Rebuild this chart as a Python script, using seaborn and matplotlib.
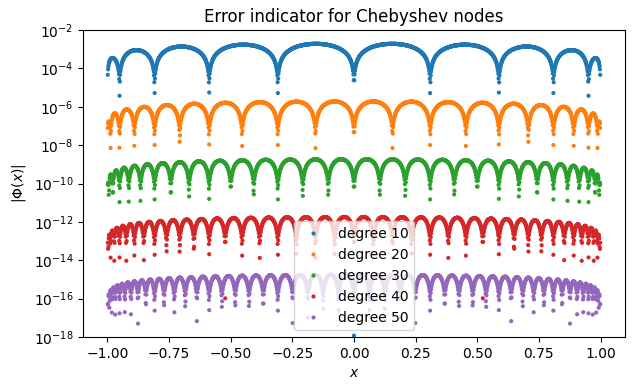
"""error indicator |Phi(x)| for Chebyshev (Gauss-Lobatto) nodes"""

import numpy as np
import pandas as pd
import seaborn as sns
import matplotlib.pyplot as plt

degrees = [10, 20, 30, 40, 50]
labels = [f"degree {d}" for d in degrees]
n_samples = 1601

x = np.linspace(-1, 1, n_samples)

rows = {"x": [], "phi": [], "label": []}
for d, lab in zip(degrees, labels):
    nodes = np.cos(np.arange(d + 1) * np.pi / d)
    phi = np.abs(np.prod(x[:, None] - nodes[None, :], axis=1))
    keep = phi > 0
    rows["x"].extend(x[keep])
    rows["phi"].extend(phi[keep])
    rows["label"].extend([lab] * keep.sum())

df = pd.DataFrame(rows)

fig, ax = plt.subplots(figsize=(6.35, 3.91), dpi=100)

sns.scatterplot(
    data=df,
    x="x",
    y="phi",
    hue="label",
    hue_order=labels,
    palette="tab10",
    s=9,
    linewidth=0,
    ax=ax,
)

ax.set_yscale("log")
ax.set_ylim(1e-18, 1e-2)
ax.set_xlabel("$x$")
ax.set_ylabel(r"$|\Phi(x)|$")
ax.set_title("Error indicator for Chebyshev nodes")
ax.legend(loc="lower center")

fig.subplots_adjust(left=0.131, right=0.984, top=0.923, bottom=0.138)
fig.savefig("out.png")
